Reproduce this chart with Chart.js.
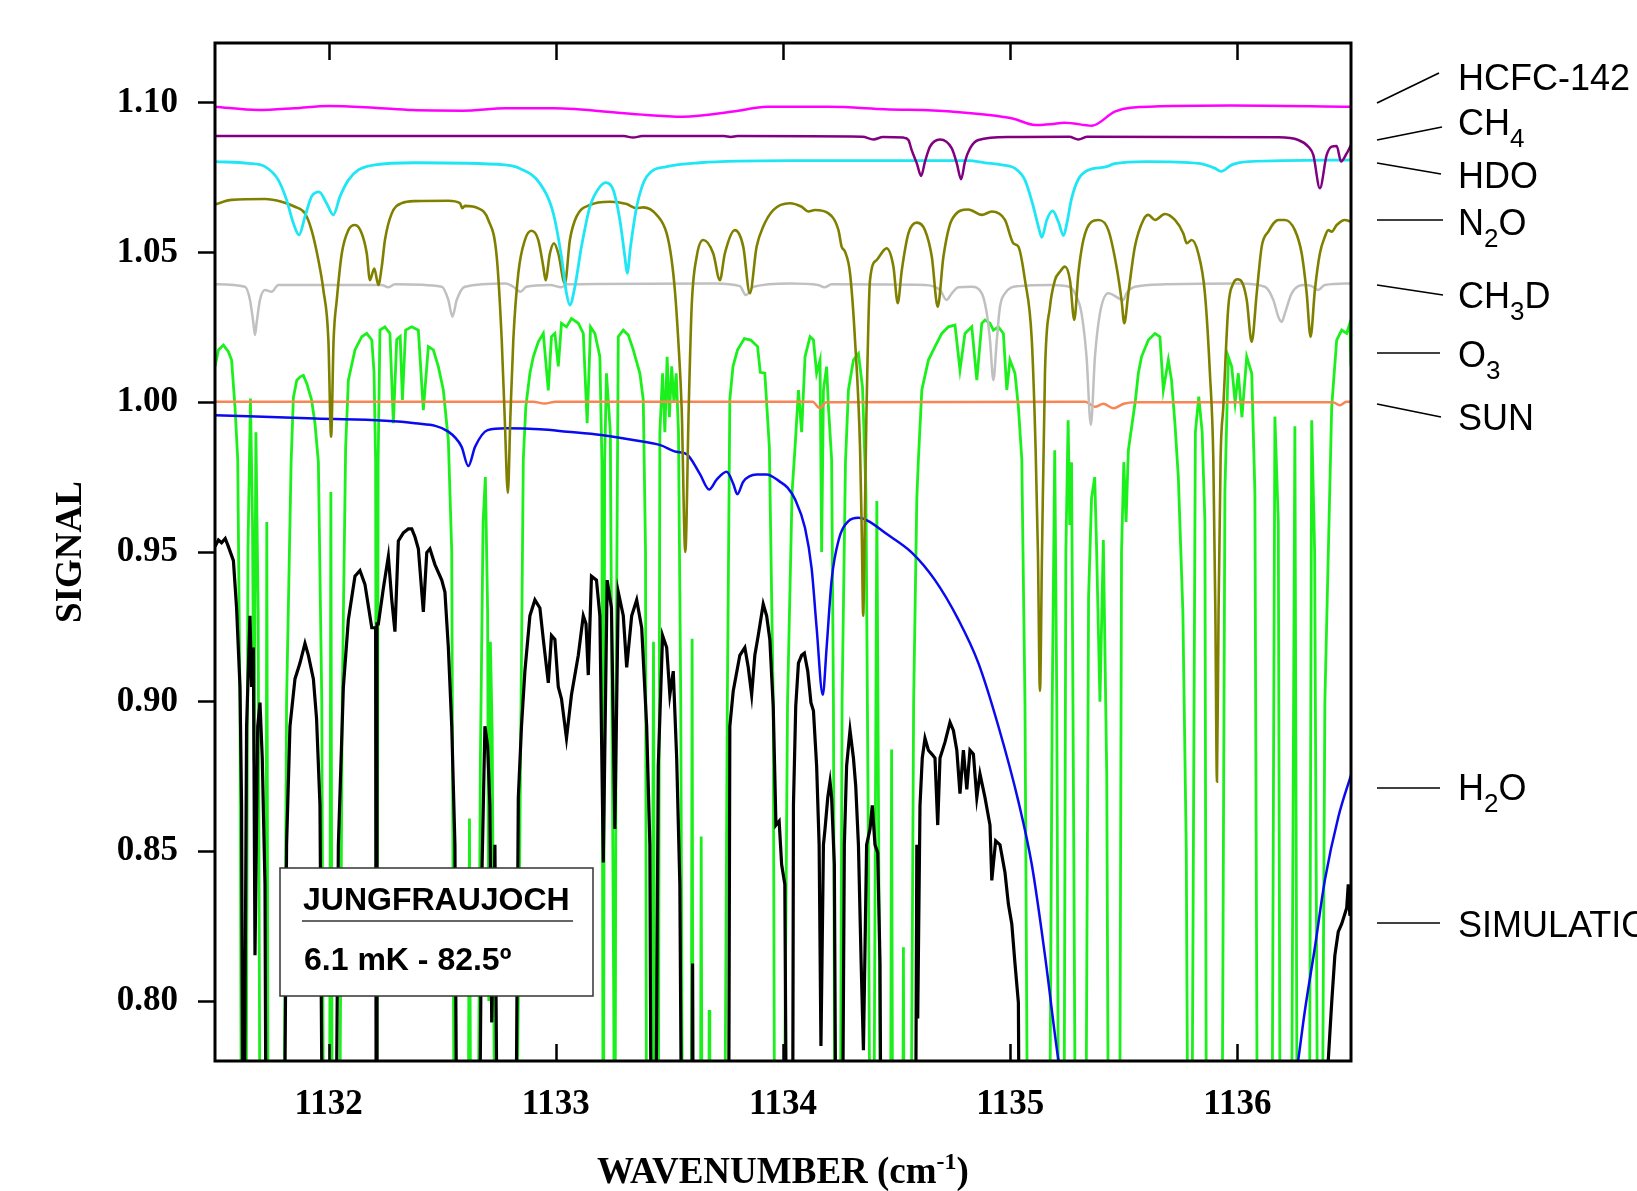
<!DOCTYPE html>
<html>
<head>
<meta charset="utf-8">
<title>Jungfraujoch spectrum</title>
<script src="https://cdn.jsdelivr.net/npm/chart.js@4.4.1/dist/chart.umd.min.js"></script>
<style>
  html, body { margin: 0; padding: 0; background: #ffffff; }
  #wrap { width: 1637px; height: 1191px; }
</style>
</head>
<body>
<div id="wrap"><canvas id="spectrumChart" width="1637" height="1191"></canvas></div>
<script>
// =============================================
// DATA (wavenumber in cm-1, signal)
// =============================================

const xTicks = [1132, 1133, 1134, 1135, 1136];
const yTicks = [0.80, 0.85, 0.90, 0.95, 1.00, 1.05, 1.10];

// HCFC-142
const hcfcWn  = [1131.5, 1131.69, 1131.85, 1132.0, 1132.2, 1132.37, 1132.59, 1132.78, 1132.99, 1133.34, 1133.56, 1133.78, 1133.93, 1134.2, 1134.45, 1134.74, 1135.01, 1135.11, 1135.18, 1135.24, 1135.36, 1135.46, 1135.53, 1135.97, 1136.5];
const hcfcSig = [1.0987, 1.0976, 1.0982, 1.0990, 1.0984, 1.0976, 1.0974, 1.0982, 1.0982, 1.0963, 1.0954, 1.0971, 1.0987, 1.0987, 1.0979, 1.0971, 1.0948, 1.0926, 1.0929, 1.0934, 1.0924, 1.0971, 1.0984, 1.0991, 1.0987];

// CH4
const ch4Wn  = [1131.5, 1133.3, 1133.34, 1133.38, 1133.74, 1133.77, 1133.80, 1134.35, 1134.398, 1134.44, 1134.53, 1134.552, 1134.566, 1134.589, 1134.608, 1134.625, 1134.647, 1134.691, 1134.743, 1134.765, 1134.784, 1134.801, 1134.823, 1134.86, 1135.0, 1135.26, 1135.30, 1135.34, 1136.18, 1136.268, 1136.312, 1136.334, 1136.363, 1136.393, 1136.415, 1136.437, 1136.456, 1136.481, 1136.5];
const ch4Sig = [1.0889, 1.0889, 1.0884, 1.0889, 1.0889, 1.0886, 1.0889, 1.0887, 1.0878, 1.0886, 1.0884, 1.0876, 1.0843, 1.0798, 1.0756, 1.0804, 1.0854, 1.0878, 1.0848, 1.0798, 1.0745, 1.0804, 1.0848, 1.0876, 1.0886, 1.0887, 1.0878, 1.0887, 1.0885, 1.0876, 1.0854, 1.0826, 1.0715, 1.0826, 1.0854, 1.0856, 1.0804, 1.0831, 1.0859];

// HDO
const hdoWn  = [1131.5, 1131.647, 1131.72, 1131.779, 1131.815, 1131.845, 1131.87, 1131.896, 1131.925, 1131.958, 1131.991, 1132.021, 1132.05, 1132.087, 1132.131, 1132.204, 1132.38, 1132.776, 1132.842, 1132.93, 1132.989, 1133.025, 1133.047, 1133.062, 1133.084, 1133.113, 1133.15, 1133.194, 1133.221, 1133.253, 1133.282, 1133.304, 1133.314, 1133.329, 1133.356, 1133.40, 1133.488, 1133.634, 1134.03, 1134.816, 1134.889, 1134.963, 1135.021, 1135.065, 1135.102, 1135.124, 1135.139, 1135.161, 1135.187, 1135.212, 1135.235, 1135.25, 1135.27, 1135.3, 1135.345, 1135.42, 1135.46, 1135.6, 1135.83, 1135.9, 1135.928, 1135.975, 1136.05, 1136.5];
const hdoSig = [1.0804, 1.0798, 1.0787, 1.0742, 1.0676, 1.0598, 1.0559, 1.0620, 1.0687, 1.0703, 1.0665, 1.0626, 1.0687, 1.0742, 1.0776, 1.0793, 1.0800, 1.0793, 1.0781, 1.0731, 1.0631, 1.0486, 1.0364, 1.0325, 1.0386, 1.0520, 1.0653, 1.0720, 1.0734, 1.0709, 1.0609, 1.0486, 1.0431, 1.0520, 1.0653, 1.0754, 1.0787, 1.0800, 1.0807, 1.0807, 1.0800, 1.0793, 1.0781, 1.0742, 1.0653, 1.0587, 1.0551, 1.0609, 1.0639, 1.0603, 1.0557, 1.0600, 1.0680, 1.0745, 1.0776, 1.0786, 1.0797, 1.0804, 1.0798, 1.0782, 1.0771, 1.0793, 1.0804, 1.0809];

// N2O
const n2oWn  = [1131.5, 1131.573, 1131.72, 1131.793, 1131.852, 1131.896, 1131.925, 1131.955, 1131.977, 1131.999, 1132.011, 1132.022, 1132.036, 1132.058, 1132.087, 1132.116, 1132.146, 1132.168, 1132.182, 1132.201, 1132.219, 1132.234, 1132.248, 1132.278, 1132.322, 1132.38, 1132.527, 1132.578, 1132.589, 1132.6, 1132.659, 1132.703, 1132.74, 1132.762, 1132.776, 1132.789, 1132.80, 1132.813, 1132.835, 1132.864, 1132.893, 1132.923, 1132.945, 1132.955, 1132.974, 1132.992, 1133.011, 1133.04, 1133.062, 1133.091, 1133.15, 1133.238, 1133.312, 1133.356, 1133.385, 1133.444, 1133.488, 1133.51, 1133.524, 1133.539, 1133.554, 1133.57, 1133.585, 1133.598, 1133.62, 1133.649, 1133.693, 1133.722, 1133.744, 1133.788, 1133.825, 1133.854, 1133.884, 1133.913, 1133.957, 1134.03, 1134.082, 1134.112, 1134.141, 1134.2, 1134.244, 1134.258, 1134.273, 1134.295, 1134.317, 1134.339, 1134.347, 1134.353, 1134.359, 1134.367, 1134.383, 1134.412, 1134.456, 1134.486, 1134.505, 1134.523, 1134.552, 1134.589, 1134.625, 1134.655, 1134.681, 1134.706, 1134.743, 1134.816, 1134.875, 1134.919, 1134.977, 1135.014, 1135.036, 1135.065, 1135.095, 1135.112, 1135.122, 1135.131, 1135.14, 1135.153, 1135.175, 1135.197, 1135.219, 1135.241, 1135.263, 1135.282, 1135.3, 1135.322, 1135.358, 1135.388, 1135.432, 1135.468, 1135.49, 1135.502, 1135.52, 1135.549, 1135.586, 1135.608, 1135.637, 1135.681, 1135.725, 1135.762, 1135.777, 1135.799, 1135.828, 1135.857, 1135.879, 1135.894, 1135.903, 1135.91, 1135.917, 1135.926, 1135.938, 1135.96, 1135.982, 1136.001, 1136.019, 1136.041, 1136.063, 1136.085, 1136.107, 1136.136, 1136.18, 1136.209, 1136.253, 1136.283, 1136.305, 1136.322, 1136.341, 1136.363, 1136.385, 1136.4, 1136.415, 1136.437, 1136.473, 1136.5];
const n2oSig = [1.0661, 1.0676, 1.0679, 1.0670, 1.0653, 1.0631, 1.0575, 1.0475, 1.0375, 1.0208, 0.9885, 1.0208, 1.0342, 1.0497, 1.0575, 1.0592, 1.0564, 1.0497, 1.0408, 1.0447, 1.0392, 1.0453, 1.0542, 1.0631, 1.0665, 1.0672, 1.0673, 1.0665, 1.0648, 1.0656, 1.0648, 1.0609, 1.0486, 1.0208, 0.9930, 0.9697, 0.9950, 1.0208, 1.0431, 1.0542, 1.0573, 1.0542, 1.0453, 1.0408, 1.0497, 1.0531, 1.0497, 1.0397, 1.0542, 1.0620, 1.0659, 1.0670, 1.0662, 1.0648, 1.0651, 1.0626, 1.0564, 1.0475, 1.0375, 1.0208, 0.9980, 0.9500, 0.9980, 1.0319, 1.0486, 1.0542, 1.0497, 1.0408, 1.0497, 1.0575, 1.0520, 1.0364, 1.0520, 1.0587, 1.0642, 1.0665, 1.0653, 1.0637, 1.0642, 1.0631, 1.0575, 1.0520, 1.0503, 1.0431, 1.0208, 0.9850, 0.9550, 0.9287, 0.9550, 0.9950, 1.0408, 1.0475, 1.0514, 1.0453, 1.0331, 1.0442, 1.0564, 1.0600, 1.0575, 1.0486, 1.0319, 1.0486, 1.0609, 1.0644, 1.0626, 1.0637, 1.0609, 1.0531, 1.0520, 1.0408, 1.0208, 0.9840, 0.9500, 0.9036, 0.9500, 1.0097, 1.0319, 1.0408, 1.0436, 1.0453, 1.0408, 1.0275, 1.0431, 1.0542, 1.0603, 1.0609, 1.0575, 1.0453, 1.0342, 1.0264, 1.0364, 1.0520, 1.0609, 1.0626, 1.0609, 1.0629, 1.0609, 1.0564, 1.0531, 1.0542, 1.0497, 1.0364, 1.0097, 0.9810, 0.9300, 0.8733, 0.9300, 0.9810, 0.9985, 1.0319, 1.0397, 1.0411, 1.0403, 1.0342, 1.0202, 1.0364, 1.0520, 1.0570, 1.0609, 1.0609, 1.0575, 1.0497, 1.0364, 1.0219, 1.0375, 1.0497, 1.0553, 1.0575, 1.0570, 1.0592, 1.0609, 1.0603];

// CH3D
const ch3dWn  = [1131.5, 1131.632, 1131.654, 1131.669, 1131.676, 1131.683, 1131.698, 1131.72, 1131.749, 1131.779, 1132.234, 1132.263, 1132.292, 1132.498, 1132.527, 1132.545, 1132.564, 1132.6, 1132.78, 1132.813, 1132.845, 1132.87, 1132.974, 1133.025, 1133.047, 1133.7, 1133.81, 1133.837, 1133.87, 1134.03, 1134.155, 1134.182, 1134.214, 1134.625, 1134.691, 1134.72, 1134.743, 1134.772, 1134.83, 1134.875, 1134.897, 1134.911, 1134.926, 1134.941, 1134.955, 1134.977, 1135.036, 1135.18, 1135.26, 1135.285, 1135.314, 1135.336, 1135.355, 1135.373, 1135.395, 1135.432, 1135.498, 1135.512, 1135.549, 1135.681, 1136.004, 1136.121, 1136.158, 1136.18, 1136.195, 1136.209, 1136.239, 1136.297, 1136.327, 1136.356, 1136.385, 1136.5];
const ch3dSig = [1.0394, 1.0386, 1.0342, 1.0264, 1.0225, 1.0264, 1.0342, 1.0375, 1.0369, 1.0392, 1.0392, 1.0384, 1.0394, 1.0386, 1.0342, 1.0286, 1.0342, 1.0386, 1.0397, 1.0386, 1.0369, 1.0386, 1.0392, 1.0384, 1.0394, 1.0397, 1.0388, 1.0358, 1.0386, 1.0397, 1.0392, 1.0384, 1.0394, 1.0392, 1.0375, 1.0342, 1.0364, 1.0384, 1.0386, 1.0364, 1.0297, 1.0208, 1.0074, 1.0208, 1.0319, 1.0364, 1.0388, 1.0392, 1.0386, 1.0364, 1.0297, 1.0152, 0.9924, 1.0152, 1.0297, 1.0364, 1.0342, 1.0364, 1.0386, 1.0394, 1.0397, 1.0386, 1.0342, 1.0286, 1.0269, 1.0297, 1.0364, 1.0392, 1.0388, 1.0375, 1.0392, 1.0397];

// SUN
const sunWn  = [1131.5, 1132.9, 1132.95, 1133.0, 1134.13, 1134.163, 1134.19, 1135.33, 1135.373, 1135.41, 1135.454, 1135.5, 1135.55, 1136.42, 1136.451, 1136.48, 1136.5];
const sunSig = [1.0002, 1.0002, 0.9996, 1.0002, 1.0002, 0.9980, 1.0000, 1.0002, 0.9985, 0.9995, 0.9980, 0.9995, 1.0000, 1.0000, 0.9990, 1.0002, 1.0002];

// H2O
const h2oWn  = [1131.5, 1131.94, 1132.38, 1132.527, 1132.585, 1132.615, 1132.645, 1132.7, 1132.78, 1132.93, 1133.05, 1133.2, 1133.34, 1133.46, 1133.53, 1133.576, 1133.634, 1133.675, 1133.708, 1133.752, 1133.781, 1133.799, 1133.825, 1133.884, 1133.928, 1133.986, 1134.02, 1134.053, 1134.097, 1134.126, 1134.148, 1134.175, 1134.192, 1134.214, 1134.244, 1134.288, 1134.332, 1134.376, 1134.449, 1134.567, 1134.669, 1134.772, 1134.86, 1134.948, 1135.036, 1135.095, 1135.153, 1135.212, 1135.26, 1135.75, 1136.23, 1136.268, 1136.297, 1136.341, 1136.385, 1136.444, 1136.5];
const h2oSig = [0.9957, 0.9946, 0.9930, 0.9902, 0.9852, 0.9787, 0.9852, 0.9907, 0.9913, 0.9910, 0.9902, 0.9891, 0.9874, 0.9857, 0.9835, 0.9827, 0.9761, 0.9709, 0.9742, 0.9768, 0.9728, 0.9693, 0.9735, 0.9759, 0.9759, 0.9735, 0.9715, 0.9676, 0.9580, 0.9445, 0.9247, 0.9023, 0.9181, 0.9406, 0.9537, 0.9603, 0.9614, 0.9603, 0.9564, 0.9498, 0.9406, 0.9274, 0.9129, 0.8918, 0.8667, 0.8456, 0.8153, 0.7804, 0.7600, 0.6200, 0.7600, 0.7804, 0.7968, 0.8179, 0.8404, 0.8614, 0.8755];

// SIMULATION
const simWn  = [1131.5, 1131.515, 1131.529, 1131.545, 1131.559, 1131.581, 1131.595, 1131.61, 1131.617, 1131.625, 1131.639, 1131.654, 1131.661, 1131.669, 1131.676, 1131.688, 1131.698, 1131.708, 1131.72, 1131.727, 1131.801, 1131.815, 1131.83, 1131.852, 1131.874, 1131.896, 1131.911, 1131.933, 1131.947, 1131.962, 1131.977, 1132.028, 1132.043, 1132.065, 1132.087, 1132.116, 1132.138, 1132.16, 1132.19, 1132.207, 1132.21, 1132.213, 1132.219, 1132.241, 1132.263, 1132.278, 1132.292, 1132.307, 1132.329, 1132.351, 1132.366, 1132.38, 1132.395, 1132.417, 1132.432, 1132.446, 1132.468, 1132.498, 1132.512, 1132.527, 1132.542, 1132.556, 1132.568, 1132.659, 1132.674, 1132.688, 1132.7, 1132.71, 1132.718, 1132.732, 1132.747, 1132.82, 1132.835, 1132.849, 1132.864, 1132.886, 1132.908, 1132.93, 1132.945, 1132.967, 1132.981, 1132.996, 1133.011, 1133.025, 1133.047, 1133.069, 1133.099, 1133.121, 1133.133, 1133.143, 1133.157, 1133.179, 1133.194, 1133.209, 1133.226, 1133.245, 1133.26, 1133.275, 1133.297, 1133.312, 1133.334, 1133.356, 1133.378, 1133.4, 1133.414, 1133.422, 1133.436, 1133.451, 1133.47, 1133.488, 1133.502, 1133.517, 1133.532, 1133.546, 1133.558, 1133.598, 1133.602, 1133.606, 1133.759, 1133.766, 1133.781, 1133.81, 1133.832, 1133.847, 1133.862, 1133.876, 1133.891, 1133.913, 1133.928, 1133.942, 1133.957, 1133.969, 1133.983, 1133.994, 1134.008, 1134.019, 1134.041, 1134.046, 1134.056, 1134.068, 1134.082, 1134.094, 1134.109, 1134.123, 1134.134, 1134.148, 1134.159, 1134.167, 1134.178, 1134.185, 1134.197, 1134.207, 1134.214, 1134.226, 1134.236, 1134.258, 1134.27, 1134.28, 1134.295, 1134.31, 1134.32, 1134.332, 1134.344, 1134.354, 1134.368, 1134.383, 1134.393, 1134.405, 1134.417, 1134.427, 1134.434, 1134.581, 1134.589, 1134.593, 1134.603, 1134.613, 1134.625, 1134.64, 1134.655, 1134.669, 1134.681, 1134.691, 1134.713, 1134.735, 1134.75, 1134.765, 1134.779, 1134.794, 1134.809, 1134.823, 1134.838, 1134.853, 1134.867, 1134.889, 1134.911, 1134.919, 1134.936, 1134.955, 1134.977, 1134.992, 1135.007, 1135.021, 1135.036, 1135.043, 1136.39, 1136.4, 1136.415, 1136.429, 1136.444, 1136.459, 1136.481, 1136.488, 1136.495, 1136.5];
const simSig = [0.9518, 0.9540, 0.9531, 0.9545, 0.9518, 0.9471, 0.9313, 0.9049, 0.8654, 0.7000, 0.8918, 0.9287, 0.9049, 0.9181, 0.8153, 0.8918, 0.8997, 0.8812, 0.8390, 0.7000, 0.7000, 0.8522, 0.8918, 0.9076, 0.9129, 0.9195, 0.9155, 0.9076, 0.8944, 0.8654, 0.7000, 0.7000, 0.8522, 0.9049, 0.9274, 0.9419, 0.9438, 0.9392, 0.9247, 0.9247, 0.7000, 0.9260, 0.9260, 0.9379, 0.9485, 0.9340, 0.9234, 0.9537, 0.9564, 0.9577, 0.9577, 0.9551, 0.9511, 0.9300, 0.9498, 0.9511, 0.9458, 0.9406, 0.9366, 0.9181, 0.8918, 0.8522, 0.7000, 0.7000, 0.8390, 0.8918, 0.8852, 0.8654, 0.7929, 0.8522, 0.7000, 0.7000, 0.8680, 0.8918, 0.9102, 0.9287, 0.9340, 0.9313, 0.9208, 0.9063, 0.9221, 0.9208, 0.9049, 0.9010, 0.8878, 0.9023, 0.9155, 0.9287, 0.9260, 0.9089, 0.9419, 0.9406, 0.9287, 0.8463, 0.9406, 0.9313, 0.8575, 0.9366, 0.9287, 0.9115, 0.9287, 0.9340, 0.9247, 0.8918, 0.8522, 0.7000, 0.7000, 0.8786, 0.9221, 0.9181, 0.9023, 0.9102, 0.8812, 0.8390, 0.7000, 0.7000, 0.8126, 0.7000, 0.7000, 0.8918, 0.9036, 0.9155, 0.9181, 0.9115, 0.9023, 0.9155, 0.9221, 0.9326, 0.9287, 0.9208, 0.8984, 0.8588, 0.8601, 0.8456, 0.8390, 0.7000, 0.7000, 0.8654, 0.8984, 0.9129, 0.9155, 0.9162, 0.9102, 0.8997, 0.8970, 0.8786, 0.8522, 0.7850, 0.8522, 0.8575, 0.8680, 0.8733, 0.8680, 0.8456, 0.7000, 0.7000, 0.8522, 0.8786, 0.8904, 0.8812, 0.8720, 0.8522, 0.8126, 0.7836, 0.8522, 0.8575, 0.8654, 0.8522, 0.8496, 0.8126, 0.7000, 0.7000, 0.8522, 0.7942, 0.8654, 0.8812, 0.8878, 0.8838, 0.8825, 0.8812, 0.8588, 0.8812, 0.8865, 0.8931, 0.8904, 0.8838, 0.8693, 0.8838, 0.8707, 0.8838, 0.8825, 0.8680, 0.8759, 0.8680, 0.8588, 0.8403, 0.8535, 0.8522, 0.8430, 0.8324, 0.8258, 0.8126, 0.7995, 0.7000, 0.7000, 0.7803, 0.7995, 0.8153, 0.8232, 0.8258, 0.8311, 0.8390, 0.8285, 0.8340];

// O3
const o3Wn  = [1131.5, 1131.515, 1131.537, 1131.559, 1131.573, 1131.588, 1131.600, 1131.610, 1131.618, 1131.635, 1131.645, 1131.656, 1131.665, 1131.672, 1131.680, 1131.690, 1131.700, 1131.722, 1131.728, 1131.735, 1131.800, 1131.815, 1131.835, 1131.845, 1131.860, 1131.875, 1131.889, 1131.904, 1131.925, 1131.940, 1131.955, 1131.970, 1131.980, 1132.003, 1132.010, 1132.017, 1132.045, 1132.060, 1132.075, 1132.087, 1132.116, 1132.146, 1132.168, 1132.190, 1132.200, 1132.207, 1132.212, 1132.218, 1132.226, 1132.248, 1132.270, 1132.285, 1132.300, 1132.315, 1132.325, 1132.339, 1132.366, 1132.395, 1132.417, 1132.439, 1132.461, 1132.483, 1132.505, 1132.527, 1132.542, 1132.555, 1132.612, 1132.620, 1132.628, 1132.655, 1132.668, 1132.680, 1132.690, 1132.700, 1132.705, 1132.712, 1132.720, 1132.735, 1132.820, 1132.835, 1132.857, 1132.868, 1132.886, 1132.901, 1132.923, 1132.945, 1132.967, 1132.981, 1132.996, 1133.011, 1133.025, 1133.047, 1133.069, 1133.099, 1133.121, 1133.138, 1133.153, 1133.172, 1133.194, 1133.203, 1133.209, 1133.215, 1133.223, 1133.240, 1133.255, 1133.260, 1133.265, 1133.275, 1133.297, 1133.319, 1133.341, 1133.370, 1133.385, 1133.395, 1133.400, 1133.420, 1133.430, 1133.438, 1133.450, 1133.458, 1133.470, 1133.480, 1133.490, 1133.500, 1133.510, 1133.520, 1133.530, 1133.540, 1133.550, 1133.560, 1133.595, 1133.600, 1133.605, 1133.635, 1133.640, 1133.645, 1133.672, 1133.675, 1133.678, 1133.740, 1133.755, 1133.766, 1133.780, 1133.800, 1133.830, 1133.858, 1133.888, 1133.900, 1133.920, 1133.940, 1133.957, 1133.965, 1134.000, 1134.020, 1134.040, 1134.053, 1134.068, 1134.082, 1134.097, 1134.119, 1134.134, 1134.148, 1134.163, 1134.170, 1134.178, 1134.192, 1134.200, 1134.214, 1134.222, 1134.230, 1134.250, 1134.260, 1134.275, 1134.288, 1134.310, 1134.332, 1134.350, 1134.365, 1134.376, 1134.385, 1134.400, 1134.413, 1134.425, 1134.435, 1134.472, 1134.478, 1134.484, 1134.525, 1134.530, 1134.535, 1134.560, 1134.575, 1134.589, 1134.596, 1134.611, 1134.640, 1134.669, 1134.699, 1134.728, 1134.757, 1134.779, 1134.801, 1134.831, 1134.853, 1134.875, 1134.889, 1134.911, 1134.926, 1134.948, 1134.970, 1134.985, 1134.999, 1135.021, 1135.036, 1135.051, 1135.065, 1135.080, 1135.170, 1135.185, 1135.196, 1135.205, 1135.215, 1135.235, 1135.245, 1135.255, 1135.262, 1135.270, 1135.280, 1135.290, 1135.330, 1135.345, 1135.358, 1135.372, 1135.380, 1135.395, 1135.410, 1135.425, 1135.435, 1135.480, 1135.490, 1135.500, 1135.510, 1135.520, 1135.550, 1135.564, 1135.578, 1135.608, 1135.637, 1135.659, 1135.674, 1135.696, 1135.710, 1135.725, 1135.740, 1135.760, 1135.775, 1135.785, 1135.800, 1135.815, 1135.830, 1135.845, 1135.857, 1135.865, 1135.930, 1135.945, 1135.960, 1135.975, 1135.990, 1136.004, 1136.020, 1136.041, 1136.063, 1136.077, 1136.090, 1136.150, 1136.165, 1136.180, 1136.190, 1136.235, 1136.253, 1136.265, 1136.315, 1136.327, 1136.340, 1136.356, 1136.370, 1136.385, 1136.415, 1136.437, 1136.459, 1136.481, 1136.495, 1136.500];
const o3Sig = [1.0119, 1.0175, 1.0191, 1.0169, 1.0141, 0.9985, 0.9810, 0.9000, 0.7000, 0.7000, 0.9500, 1.0013, 0.9600, 0.8800, 0.9900, 0.9300, 0.7000, 0.7000, 0.9600, 0.7000, 0.7000, 0.9000, 0.9800, 1.0016, 1.0074, 1.0085, 1.0090, 1.0063, 1.0008, 0.9930, 0.9800, 0.9000, 0.7000, 0.7000, 0.9700, 0.7000, 0.7000, 0.9000, 0.9850, 1.0074, 1.0175, 1.0219, 1.0230, 1.0208, 1.0100, 0.9800, 0.7000, 0.9800, 1.0241, 1.0252, 1.0230, 0.9930, 1.0210, 1.0220, 1.0008, 1.0241, 1.0252, 1.0241, 0.9974, 1.0186, 1.0175, 1.0119, 1.0041, 0.9874, 0.9500, 0.7000, 0.7000, 0.8610, 0.7000, 0.7000, 0.8800, 0.9600, 0.9750, 0.9300, 0.8000, 0.9200, 0.8900, 0.7000, 0.7000, 0.8000, 0.9810, 0.9985, 1.0097, 1.0152, 1.0202, 1.0230, 1.0040, 1.0219, 1.0230, 1.0120, 1.0264, 1.0252, 1.0280, 1.0264, 1.0230, 0.9930, 1.0252, 1.0230, 1.0152, 0.9800, 0.7000, 0.9800, 1.0097, 0.9900, 0.8000, 0.7000, 0.9000, 1.0219, 1.0241, 1.0225, 1.0175, 1.0097, 1.0008, 0.9500, 0.7000, 0.7000, 0.9200, 0.7000, 0.7000, 0.9900, 1.0097, 0.9900, 1.0152, 0.9950, 1.0120, 1.0000, 1.0097, 0.9900, 0.9000, 0.7000, 0.7000, 0.9210, 0.7000, 0.7000, 0.8550, 0.7000, 0.7000, 0.7970, 0.7000, 0.7000, 0.9000, 1.0010, 1.0120, 1.0175, 1.0213, 1.0208, 1.0186, 1.0100, 1.0097, 0.9850, 0.9000, 0.7000, 0.7000, 0.9000, 0.9700, 0.9850, 1.0041, 0.9900, 1.0152, 1.0219, 1.0208, 1.0097, 1.0141, 0.9500, 1.0041, 1.0119, 0.9985, 0.9810, 0.9000, 0.7000, 0.7000, 0.9000, 0.9800, 1.0041, 1.0141, 1.0163, 1.0050, 0.9700, 0.8500, 0.7000, 0.7500, 0.9670, 0.8000, 0.7000, 0.7000, 0.8840, 0.7000, 0.7000, 0.8180, 0.7000, 0.7000, 0.9000, 0.9680, 0.9810, 1.0041, 1.0141, 1.0186, 1.0230, 1.0252, 1.0258, 1.0108, 1.0230, 1.0252, 1.0074, 1.0264, 1.0275, 1.0264, 1.0241, 1.0252, 1.0230, 1.0041, 1.0141, 1.0097, 0.9985, 0.9810, 0.9000, 0.7000, 0.7000, 0.9000, 0.9840, 0.9000, 0.7000, 0.7000, 0.9500, 0.9940, 0.9590, 0.9800, 0.8500, 0.7000, 0.7000, 0.9350, 0.9680, 0.9750, 0.9520, 0.9000, 0.9540, 0.8750, 0.7000, 0.7000, 0.9500, 0.9800, 0.9600, 0.9840, 1.0000, 1.0097, 1.0152, 1.0208, 1.0230, 1.0219, 1.0041, 1.0141, 1.0074, 0.9930, 0.9750, 0.9300, 0.8500, 0.7000, 0.7500, 0.9900, 1.0019, 0.9900, 0.9600, 0.7000, 0.7000, 0.9700, 1.0152, 1.0119, 1.0000, 1.0097, 0.9950, 1.0152, 1.0097, 0.9700, 0.7000, 0.7000, 0.9952, 0.9600, 0.7000, 0.7000, 0.9920, 0.7000, 0.7000, 0.9940, 0.9500, 0.7000, 0.7000, 0.9000, 0.9985, 1.0208, 1.0241, 1.0230, 1.0264, 1.0120];

// =============================================
// CHART
// =============================================

const pts = (xs, ys) => xs.map((x, i) => ({ x: x, y: ys[i] }));

const serifBold = "'Liberation Serif', 'Times New Roman', serif";
const sans = "'Liberation Sans', Arial, Helvetica, sans-serif";

// right-hand species labels: text parts (1 = subscript), baseline y, leader line
const speciesLabels = [
    { parts: [['HCFC-142', 0]], y: 90, line: [1377, 103, 1439, 73] },
    { parts: [['CH', 0], ['4', 1]], y: 135, line: [1377, 140, 1442, 127] },
    { parts: [['HDO', 0]], y: 188, line: [1377, 163, 1441, 174] },
    { parts: [['N', 0], ['2', 1], ['O', 0]], y: 235, line: [1377, 220, 1443, 220] },
    { parts: [['CH', 0], ['3', 1], ['D', 0]], y: 308, line: [1377, 285, 1443, 295] },
    { parts: [['O', 0], ['3', 1]], y: 367, line: [1377, 353, 1440, 353] },
    { parts: [['SUN', 0]], y: 430, line: [1377, 404, 1441, 417] },
    { parts: [['H', 0], ['2', 1], ['O', 0]], y: 800, line: [1377, 788, 1440, 788] },
    { parts: [['SIMULATION', 0]], y: 937, line: [1377, 923, 1440, 923] }
];

const decorPlugin = {
    id: 'decor',
    afterDraw: function (chart) {
        const ctx = chart.ctx;
        const area = chart.chartArea;
        const xs = chart.scales.x;
        ctx.save();

        // frame
        ctx.strokeStyle = '#000';
        ctx.lineWidth = 3;
        ctx.strokeRect(area.left, area.top, area.right - area.left, area.bottom - area.top);

        // inward x ticks, top and bottom
        ctx.lineWidth = 2.5;
        xTicks.forEach(function (v) {
            const px = Math.round(xs.getPixelForValue(v)) + 0.5;
            ctx.beginPath();
            ctx.moveTo(px, area.bottom);
            ctx.lineTo(px, area.bottom - 17);
            ctx.moveTo(px, area.top);
            ctx.lineTo(px, area.top + 17);
            ctx.stroke();
        });

        // info box
        ctx.fillStyle = '#fff';
        ctx.fillRect(280, 868, 313, 128);
        ctx.strokeStyle = '#333';
        ctx.lineWidth = 1.5;
        ctx.strokeRect(280, 868, 313, 128);
        ctx.fillStyle = '#000';
        ctx.font = 'bold 32px ' + sans;
        ctx.textAlign = 'left';
        ctx.textBaseline = 'alphabetic';
        ctx.fillText('JUNGFRAUJOCH', 303, 910);
        ctx.beginPath();
        ctx.lineWidth = 1.5;
        ctx.moveTo(302, 921);
        ctx.lineTo(573, 921);
        ctx.stroke();
        ctx.fillText('6.1 mK - 82.5º', 304, 970);

        // species labels with leader lines
        speciesLabels.forEach(function (lab) {
            ctx.strokeStyle = '#000';
            ctx.lineWidth = 1.7;
            ctx.beginPath();
            ctx.moveTo(lab.line[0], lab.line[1]);
            ctx.lineTo(lab.line[2], lab.line[3]);
            ctx.stroke();
            let x = 1458;
            lab.parts.forEach(function (p) {
                if (p[1]) {
                    ctx.font = '26px ' + sans;
                    ctx.fillText(p[0], x, lab.y + 12);
                } else {
                    ctx.font = '36px ' + sans;
                    ctx.fillText(p[0], x, lab.y);
                }
                x += ctx.measureText(p[0]).width;
            });
        });

        // x axis title
        const mainFont = 'bold 37px ' + serifBold;
        const supFont = 'bold 24px ' + serifBold;
        ctx.font = mainFont;
        const t1 = 'WAVENUMBER (cm';
        const w1 = ctx.measureText(t1).width;
        const w3 = ctx.measureText(')').width;
        ctx.font = supFont;
        const w2 = ctx.measureText('-1').width;
        let tx = (area.left + area.right) / 2 - (w1 + w2 + w3) / 2;
        const ty = 1183;
        ctx.font = mainFont;
        ctx.fillText(t1, tx, ty);
        tx += w1;
        ctx.font = supFont;
        ctx.fillText('-1', tx, ty - 14);
        tx += w2;
        ctx.font = mainFont;
        ctx.fillText(')', tx, ty);

        // y axis title
        ctx.translate(71, (area.top + area.bottom) / 2);
        ctx.rotate(-Math.PI / 2);
        ctx.textAlign = 'center';
        ctx.textBaseline = 'middle';
        ctx.font = 'bold 37px ' + serifBold;
        ctx.fillText('SIGNAL', 0, 0);

        ctx.restore();
    }
};

function lineSet(label, xs, ys, color, width, smooth) {
    return {
        label: label,
        data: pts(xs, ys),
        borderColor: color,
        backgroundColor: 'transparent',
        borderWidth: width,
        pointRadius: 0,
        pointHoverRadius: 0,
        cubicInterpolationMode: smooth ? 'monotone' : 'default',
        tension: 0,
        clip: 0
    };
}

// first dataset is drawn on top
const chart = new Chart(document.getElementById('spectrumChart'), {
    type: 'line',
    data: {
        datasets: [
            lineSet('HCFC-142', hcfcWn, hcfcSig, '#FF00FF', 2.5, true),
            lineSet('CH4', ch4Wn, ch4Sig, '#800080', 2.5, true),
            lineSet('HDO', hdoWn, hdoSig, '#1EE6F5', 2.8, true),
            lineSet('N2O', n2oWn, n2oSig, '#808000', 2.6, true),
            lineSet('CH3D', ch3dWn, ch3dSig, '#C0C0C0', 2.5, true),
            lineSet('SUN', sunWn, sunSig, '#F98454', 2.5, true),
            lineSet('H2O', h2oWn, h2oSig, '#0A0AF0', 2.5, true),
            lineSet('SIMULATION', simWn, simSig, '#000000', 3.2, false),
            lineSet('O3', o3Wn, o3Sig, '#1CF01C', 2.8, false)
        ]
    },
    options: {
        responsive: false,
        devicePixelRatio: 1,
        animation: false,
        layout: { padding: { left: 0, right: 286, top: 43, bottom: 0 } },
        plugins: {
            legend: { display: false },
            tooltip: { enabled: false }
        },
        scales: {
            x: {
                type: 'linear',
                min: 1131.5,
                max: 1136.5,
                afterBuildTicks: function (s) { s.ticks = xTicks.map(v => ({ value: v })); },
                afterFit: function (s) { s.height = 130; },
                border: { display: false },
                grid: { display: false, drawTicks: false },
                ticks: {
                    color: '#000',
                    padding: 23,
                    maxRotation: 0,
                    autoSkip: false,
                    font: { family: serifBold, weight: 'bold', size: 35 },
                    callback: v => String(v)
                }
            },
            y: {
                type: 'linear',
                min: 0.78,
                max: 1.12,
                afterBuildTicks: function (s) { s.ticks = yTicks.map(v => ({ value: v })); },
                afterFit: function (s) { s.width = 215; },
                border: { display: false },
                grid: {
                    drawOnChartArea: false,
                    drawTicks: true,
                    tickLength: 17,
                    tickWidth: 2.5,
                    tickColor: '#000'
                },
                ticks: {
                    color: '#000',
                    padding: 20,
                    font: { family: serifBold, weight: 'bold', size: 35 },
                    callback: v => v.toFixed(2)
                }
            }
        }
    },
    plugins: [decorPlugin]
});
</script>
</body>
</html>
